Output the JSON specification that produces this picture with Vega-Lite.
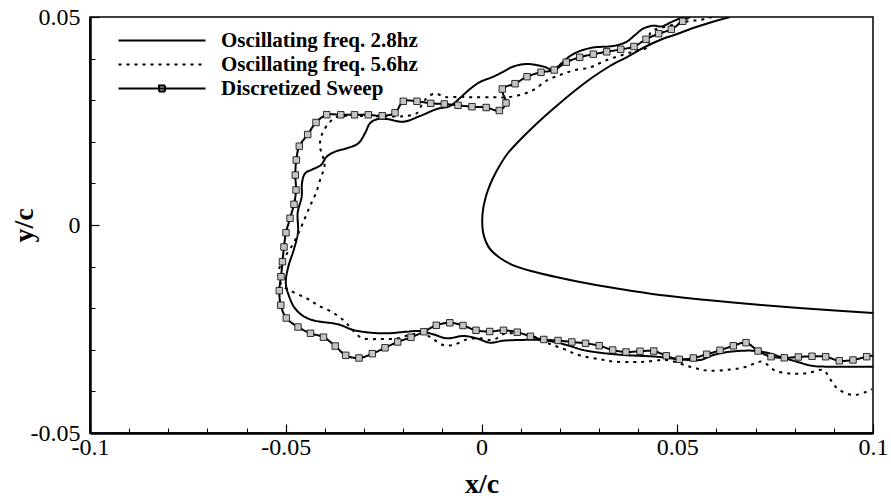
{
  "$schema": "https://vega.github.io/schema/vega-lite/v6.json",
  "width": 783,
  "height": 416,
  "autosize": "none",
  "padding": {"left": 90, "top": 17, "right": 18, "bottom": 66},
  "background": "white",
  "config": {
    "view": {"stroke": "black", "strokeWidth": 1.5},
    "axis": {"grid": false, "labelColor": "black", "tickColor": "black", "domainColor": "black", "titleColor": "black"}
  },
  "datasets": {
    "airfoil": [
      {"x": 0.06347, "y": 0.05}, {"x": 0.05888, "y": 0.0488}, {"x": 0.05402, "y": 0.04735}, {"x": 0.04994, "y": 0.04591},
      {"x": 0.04559, "y": 0.04447}, {"x": 0.04125, "y": 0.04255}, {"x": 0.03717, "y": 0.04038}, {"x": 0.03282, "y": 0.03822},
      {"x": 0.02848, "y": 0.03558}, {"x": 0.02439, "y": 0.03269}, {"x": 0.02005, "y": 0.02933}, {"x": 0.01622, "y": 0.0262},
      {"x": 0.01239, "y": 0.02284}, {"x": 0.00932, "y": 0.01995}, {"x": 0.00677, "y": 0.01731}, {"x": 0.00473, "y": 0.01442},
      {"x": 0.00294, "y": 0.0113}, {"x": 0.00166, "y": 0.00841}, {"x": 0.00089, "y": 0.00601}, {"x": 0.00038, "y": 0.00361},
      {"x": 0.00018, "y": 0.00096}, {"x": 0.00038, "y": -0.00168}, {"x": 0.00115, "y": -0.00409}, {"x": 0.00217, "y": -0.00577},
      {"x": 0.00473, "y": -0.00793}, {"x": 0.00899, "y": -0.01002}, {"x": 0.01571, "y": -0.01178}, {"x": 0.02516, "y": -0.0137},
      {"x": 0.03538, "y": -0.01538}, {"x": 0.04559, "y": -0.01683}, {"x": 0.0576, "y": -0.01803}, {"x": 0.06858, "y": -0.01899},
      {"x": 0.07957, "y": -0.01983}, {"x": 0.0903, "y": -0.02055}, {"x": 0.1, "y": -0.02115}
    ],
    "wake": [
      {"series": "Oscillating freq. 2.8hz", "x": 0.05224, "y": 0.05},
      {"series": "Oscillating freq. 2.8hz", "x": 0.0507, "y": 0.04964},
      {"series": "Oscillating freq. 2.8hz", "x": 0.04815, "y": 0.04863},
      {"series": "Oscillating freq. 2.8hz", "x": 0.04603, "y": 0.04772},
      {"series": "Oscillating freq. 2.8hz", "x": 0.04388, "y": 0.04791},
      {"series": "Oscillating freq. 2.8hz", "x": 0.04133, "y": 0.04723},
      {"series": "Oscillating freq. 2.8hz", "x": 0.03921, "y": 0.04567},
      {"series": "Oscillating freq. 2.8hz", "x": 0.03709, "y": 0.04406},
      {"series": "Oscillating freq. 2.8hz", "x": 0.03367, "y": 0.04303},
      {"series": "Oscillating freq. 2.8hz", "x": 0.02856, "y": 0.04267},
      {"series": "Oscillating freq. 2.8hz", "x": 0.02516, "y": 0.04183},
      {"series": "Oscillating freq. 2.8hz", "x": 0.02261, "y": 0.04062},
      {"series": "Oscillating freq. 2.8hz", "x": 0.02056, "y": 0.03894},
      {"series": "Oscillating freq. 2.8hz", "x": 0.01826, "y": 0.03738},
      {"series": "Oscillating freq. 2.8hz", "x": 0.01579, "y": 0.0381},
      {"series": "Oscillating freq. 2.8hz", "x": 0.01155, "y": 0.0387},
      {"series": "Oscillating freq. 2.8hz", "x": 0.00812, "y": 0.0381},
      {"series": "Oscillating freq. 2.8hz", "x": 0.00557, "y": 0.03685},
      {"series": "Oscillating freq. 2.8hz", "x": 0.00301, "y": 0.03565},
      {"series": "Oscillating freq. 2.8hz", "x": -0.00038, "y": 0.03437},
      {"series": "Oscillating freq. 2.8hz", "x": -0.00294, "y": 0.03269},
      {"series": "Oscillating freq. 2.8hz", "x": -0.00549, "y": 0.03053},
      {"series": "Oscillating freq. 2.8hz", "x": -0.00805, "y": 0.02861},
      {"series": "Oscillating freq. 2.8hz", "x": -0.01144, "y": 0.02788},
      {"series": "Oscillating freq. 2.8hz", "x": -0.01571, "y": 0.0262},
      {"series": "Oscillating freq. 2.8hz", "x": -0.01997, "y": 0.02483},
      {"series": "Oscillating freq. 2.8hz", "x": -0.02421, "y": 0.02548},
      {"series": "Oscillating freq. 2.8hz", "x": -0.02677, "y": 0.02541},
      {"series": "Oscillating freq. 2.8hz", "x": -0.02848, "y": 0.02445},
      {"series": "Oscillating freq. 2.8hz", "x": -0.02976, "y": 0.02204},
      {"series": "Oscillating freq. 2.8hz", "x": -0.03147, "y": 0.01964},
      {"series": "Oscillating freq. 2.8hz", "x": -0.03443, "y": 0.01844},
      {"series": "Oscillating freq. 2.8hz", "x": -0.03742, "y": 0.01762},
      {"series": "Oscillating freq. 2.8hz", "x": -0.03954, "y": 0.01642},
      {"series": "Oscillating freq. 2.8hz", "x": -0.041, "y": 0.01442},
      {"series": "Oscillating freq. 2.8hz", "x": -0.04296, "y": 0.01346},
      {"series": "Oscillating freq. 2.8hz", "x": -0.04508, "y": 0.01238},
      {"series": "Oscillating freq. 2.8hz", "x": -0.04585, "y": 0.0101},
      {"series": "Oscillating freq. 2.8hz", "x": -0.04593, "y": 0.0068},
      {"series": "Oscillating freq. 2.8hz", "x": -0.04695, "y": 0.003},
      {"series": "Oscillating freq. 2.8hz", "x": -0.04687, "y": -0.00168},
      {"series": "Oscillating freq. 2.8hz", "x": -0.04789, "y": -0.00577},
      {"series": "Oscillating freq. 2.8hz", "x": -0.04935, "y": -0.01002},
      {"series": "Oscillating freq. 2.8hz", "x": -0.04999, "y": -0.01394},
      {"series": "Oscillating freq. 2.8hz", "x": -0.04917, "y": -0.01707},
      {"series": "Oscillating freq. 2.8hz", "x": -0.04789, "y": -0.01971},
      {"series": "Oscillating freq. 2.8hz", "x": -0.04593, "y": -0.02163},
      {"series": "Oscillating freq. 2.8hz", "x": -0.04381, "y": -0.02267},
      {"series": "Oscillating freq. 2.8hz", "x": -0.04125, "y": -0.02324},
      {"series": "Oscillating freq. 2.8hz", "x": -0.03793, "y": -0.02363},
      {"series": "Oscillating freq. 2.8hz", "x": -0.03563, "y": -0.02416},
      {"series": "Oscillating freq. 2.8hz", "x": -0.03333, "y": -0.02507},
      {"series": "Oscillating freq. 2.8hz", "x": -0.02932, "y": -0.02579},
      {"series": "Oscillating freq. 2.8hz", "x": -0.02421, "y": -0.02603},
      {"series": "Oscillating freq. 2.8hz", "x": -0.01911, "y": -0.02565},
      {"series": "Oscillating freq. 2.8hz", "x": -0.01571, "y": -0.02548},
      {"series": "Oscillating freq. 2.8hz", "x": -0.01231, "y": -0.02627},
      {"series": "Oscillating freq. 2.8hz", "x": -0.00889, "y": -0.02724},
      {"series": "Oscillating freq. 2.8hz", "x": -0.00465, "y": -0.02668},
      {"series": "Oscillating freq. 2.8hz", "x": -0.00123, "y": -0.02724},
      {"series": "Oscillating freq. 2.8hz", "x": 0.00217, "y": -0.02829},
      {"series": "Oscillating freq. 2.8hz", "x": 0.00557, "y": -0.02781},
      {"series": "Oscillating freq. 2.8hz", "x": 0.00983, "y": -0.02764},
      {"series": "Oscillating freq. 2.8hz", "x": 0.01494, "y": -0.02764},
      {"series": "Oscillating freq. 2.8hz", "x": 0.01834, "y": -0.02805},
      {"series": "Oscillating freq. 2.8hz", "x": 0.02176, "y": -0.02885},
      {"series": "Oscillating freq. 2.8hz", "x": 0.026, "y": -0.03005},
      {"series": "Oscillating freq. 2.8hz", "x": 0.03027, "y": -0.0307},
      {"series": "Oscillating freq. 2.8hz", "x": 0.03622, "y": -0.03125},
      {"series": "Oscillating freq. 2.8hz", "x": 0.04475, "y": -0.03166},
      {"series": "Oscillating freq. 2.8hz", "x": 0.0507, "y": -0.03228},
      {"series": "Oscillating freq. 2.8hz", "x": 0.05581, "y": -0.03245},
      {"series": "Oscillating freq. 2.8hz", "x": 0.05921, "y": -0.03125},
      {"series": "Oscillating freq. 2.8hz", "x": 0.06347, "y": -0.03046},
      {"series": "Oscillating freq. 2.8hz", "x": 0.06943, "y": -0.03022},
      {"series": "Oscillating freq. 2.8hz", "x": 0.07285, "y": -0.0307},
      {"series": "Oscillating freq. 2.8hz", "x": 0.07625, "y": -0.03166},
      {"series": "Oscillating freq. 2.8hz", "x": 0.08051, "y": -0.03286},
      {"series": "Oscillating freq. 2.8hz", "x": 0.08475, "y": -0.03389},
      {"series": "Oscillating freq. 2.8hz", "x": 0.08902, "y": -0.03406},
      {"series": "Oscillating freq. 2.8hz", "x": 0.1, "y": -0.03406},

      {"series": "Oscillating freq. 5.6hz", "x": 0.05888, "y": 0.05},
      {"series": "Oscillating freq. 5.6hz", "x": 0.05581, "y": 0.04928},
      {"series": "Oscillating freq. 5.6hz", "x": 0.05326, "y": 0.04904},
      {"series": "Oscillating freq. 5.6hz", "x": 0.04994, "y": 0.04832},
      {"series": "Oscillating freq. 5.6hz", "x": 0.04662, "y": 0.0476},
      {"series": "Oscillating freq. 5.6hz", "x": 0.0433, "y": 0.04639},
      {"series": "Oscillating freq. 5.6hz", "x": 0.04227, "y": 0.04267},
      {"series": "Oscillating freq. 5.6hz", "x": 0.03964, "y": 0.04195},
      {"series": "Oscillating freq. 5.6hz", "x": 0.0364, "y": 0.04099},
      {"series": "Oscillating freq. 5.6hz", "x": 0.03308, "y": 0.04002},
      {"series": "Oscillating freq. 5.6hz", "x": 0.03027, "y": 0.03894},
      {"series": "Oscillating freq. 5.6hz", "x": 0.02771, "y": 0.03786},
      {"series": "Oscillating freq. 5.6hz", "x": 0.02345, "y": 0.03714},
      {"series": "Oscillating freq. 5.6hz", "x": 0.02005, "y": 0.03606},
      {"series": "Oscillating freq. 5.6hz", "x": 0.01665, "y": 0.03473},
      {"series": "Oscillating freq. 5.6hz", "x": 0.01323, "y": 0.03245},
      {"series": "Oscillating freq. 5.6hz", "x": 0.00983, "y": 0.03125},
      {"series": "Oscillating freq. 5.6hz", "x": 0.00644, "y": 0.0307},
      {"series": "Oscillating freq. 5.6hz", "x": 0.00301, "y": 0.0307},
      {"series": "Oscillating freq. 5.6hz", "x": -0.00209, "y": 0.0307},
      {"series": "Oscillating freq. 5.6hz", "x": -0.00549, "y": 0.03082},
      {"series": "Oscillating freq. 5.6hz", "x": -0.00932, "y": 0.03077},
      {"series": "Oscillating freq. 5.6hz", "x": -0.01188, "y": 0.03161},
      {"series": "Oscillating freq. 5.6hz", "x": -0.014, "y": 0.03053},
      {"series": "Oscillating freq. 5.6hz", "x": -0.01527, "y": 0.02885},
      {"series": "Oscillating freq. 5.6hz", "x": -0.01655, "y": 0.02685},
      {"series": "Oscillating freq. 5.6hz", "x": -0.01954, "y": 0.0262},
      {"series": "Oscillating freq. 5.6hz", "x": -0.02337, "y": 0.02608},
      {"series": "Oscillating freq. 5.6hz", "x": -0.02848, "y": 0.0262},
      {"series": "Oscillating freq. 5.6hz", "x": -0.03359, "y": 0.0262},
      {"series": "Oscillating freq. 5.6hz", "x": -0.03665, "y": 0.02608},
      {"series": "Oscillating freq. 5.6hz", "x": -0.0387, "y": 0.02483},
      {"series": "Oscillating freq. 5.6hz", "x": -0.04082, "y": 0.02163},
      {"series": "Oscillating freq. 5.6hz", "x": -0.04125, "y": 0.01882},
      {"series": "Oscillating freq. 5.6hz", "x": -0.04041, "y": 0.01611},
      {"series": "Oscillating freq. 5.6hz", "x": -0.0401, "y": 0.01394},
      {"series": "Oscillating freq. 5.6hz", "x": -0.041, "y": 0.01154},
      {"series": "Oscillating freq. 5.6hz", "x": -0.04227, "y": 0.00769},
      {"series": "Oscillating freq. 5.6hz", "x": -0.04368, "y": 0.00481},
      {"series": "Oscillating freq. 5.6hz", "x": -0.04508, "y": 0.00168},
      {"series": "Oscillating freq. 5.6hz", "x": -0.04662, "y": -0.00168},
      {"series": "Oscillating freq. 5.6hz", "x": -0.04828, "y": -0.00481},
      {"series": "Oscillating freq. 5.6hz", "x": -0.05019, "y": -0.00762},
      {"series": "Oscillating freq. 5.6hz", "x": -0.05147, "y": -0.00998},
      {"series": "Oscillating freq. 5.6hz", "x": -0.05185, "y": -0.01106},
      {"series": "Oscillating freq. 5.6hz", "x": -0.05109, "y": -0.01442},
      {"series": "Oscillating freq. 5.6hz", "x": -0.04891, "y": -0.01574},
      {"series": "Oscillating freq. 5.6hz", "x": -0.04598, "y": -0.01707},
      {"series": "Oscillating freq. 5.6hz", "x": -0.04381, "y": -0.01803},
      {"series": "Oscillating freq. 5.6hz", "x": -0.04176, "y": -0.01935},
      {"series": "Oscillating freq. 5.6hz", "x": -0.0387, "y": -0.02067},
      {"series": "Oscillating freq. 5.6hz", "x": -0.0353, "y": -0.02284},
      {"series": "Oscillating freq. 5.6hz", "x": -0.03295, "y": -0.02524},
      {"series": "Oscillating freq. 5.6hz", "x": -0.03052, "y": -0.02716},
      {"series": "Oscillating freq. 5.6hz", "x": -0.02593, "y": -0.0274},
      {"series": "Oscillating freq. 5.6hz", "x": -0.02166, "y": -0.02728},
      {"series": "Oscillating freq. 5.6hz", "x": -0.01826, "y": -0.02644},
      {"series": "Oscillating freq. 5.6hz", "x": -0.01487, "y": -0.02603},
      {"series": "Oscillating freq. 5.6hz", "x": -0.01231, "y": -0.02748},
      {"series": "Oscillating freq. 5.6hz", "x": -0.00976, "y": -0.02885},
      {"series": "Oscillating freq. 5.6hz", "x": -0.0072, "y": -0.02885},
      {"series": "Oscillating freq. 5.6hz", "x": -0.00378, "y": -0.02752},
      {"series": "Oscillating freq. 5.6hz", "x": -0.00038, "y": -0.02724},
      {"series": "Oscillating freq. 5.6hz", "x": 0.00301, "y": -0.02764},
      {"series": "Oscillating freq. 5.6hz", "x": 0.00557, "y": -0.0262},
      {"series": "Oscillating freq. 5.6hz", "x": 0.00812, "y": -0.02603},
      {"series": "Oscillating freq. 5.6hz", "x": 0.01323, "y": -0.0268},
      {"series": "Oscillating freq. 5.6hz", "x": 0.01665, "y": -0.02829},
      {"series": "Oscillating freq. 5.6hz", "x": 0.02089, "y": -0.02976},
      {"series": "Oscillating freq. 5.6hz", "x": 0.02516, "y": -0.03137},
      {"series": "Oscillating freq. 5.6hz", "x": 0.03027, "y": -0.03228},
      {"series": "Oscillating freq. 5.6hz", "x": 0.03367, "y": -0.03281},
      {"series": "Oscillating freq. 5.6hz", "x": 0.03877, "y": -0.03293},
      {"series": "Oscillating freq. 5.6hz", "x": 0.0422, "y": -0.03286},
      {"series": "Oscillating freq. 5.6hz", "x": 0.04731, "y": -0.03245},
      {"series": "Oscillating freq. 5.6hz", "x": 0.05326, "y": -0.03406},
      {"series": "Oscillating freq. 5.6hz", "x": 0.05785, "y": -0.03502},
      {"series": "Oscillating freq. 5.6hz", "x": 0.06347, "y": -0.03473},
      {"series": "Oscillating freq. 5.6hz", "x": 0.06774, "y": -0.03406},
      {"series": "Oscillating freq. 5.6hz", "x": 0.07063, "y": -0.03293},
      {"series": "Oscillating freq. 5.6hz", "x": 0.07203, "y": -0.03293},
      {"series": "Oscillating freq. 5.6hz", "x": 0.07497, "y": -0.03498},
      {"series": "Oscillating freq. 5.6hz", "x": 0.07931, "y": -0.03574},
      {"series": "Oscillating freq. 5.6hz", "x": 0.0834, "y": -0.03558},
      {"series": "Oscillating freq. 5.6hz", "x": 0.08731, "y": -0.03486},
      {"series": "Oscillating freq. 5.6hz", "x": 0.08902, "y": -0.03702},
      {"series": "Oscillating freq. 5.6hz", "x": 0.09106, "y": -0.03942},
      {"series": "Oscillating freq. 5.6hz", "x": 0.09497, "y": -0.04086},
      {"series": "Oscillating freq. 5.6hz", "x": 0.09839, "y": -0.04007},
      {"series": "Oscillating freq. 5.6hz", "x": 0.09975, "y": -0.03942},

      {"series": "Discretized Sweep", "x": 0.05326, "y": 0.05},
      {"series": "Discretized Sweep", "x": 0.05139, "y": 0.04897},
      {"series": "Discretized Sweep", "x": 0.04848, "y": 0.04704},
      {"series": "Discretized Sweep", "x": 0.04526, "y": 0.04599},
      {"series": "Discretized Sweep", "x": 0.04202, "y": 0.04464},
      {"series": "Discretized Sweep", "x": 0.03895, "y": 0.04291},
      {"series": "Discretized Sweep", "x": 0.03556, "y": 0.04223},
      {"series": "Discretized Sweep", "x": 0.03198, "y": 0.04163},
      {"series": "Discretized Sweep", "x": 0.02856, "y": 0.04106},
      {"series": "Discretized Sweep", "x": 0.02508, "y": 0.04031},
      {"series": "Discretized Sweep", "x": 0.02166, "y": 0.03913},
      {"series": "Discretized Sweep", "x": 0.01857, "y": 0.03726},
      {"series": "Discretized Sweep", "x": 0.0152, "y": 0.03671},
      {"series": "Discretized Sweep", "x": 0.01162, "y": 0.03565},
      {"series": "Discretized Sweep", "x": 0.00856, "y": 0.03397},
      {"series": "Discretized Sweep", "x": 0.00531, "y": 0.03269},
      {"series": "Discretized Sweep", "x": 0.00626, "y": 0.02933},
      {"series": "Discretized Sweep", "x": 0.00455, "y": 0.02752},
      {"series": "Discretized Sweep", "x": 0.0012, "y": 0.02824},
      {"series": "Discretized Sweep", "x": -0.00243, "y": 0.02844},
      {"series": "Discretized Sweep", "x": -0.006, "y": 0.02877},
      {"series": "Discretized Sweep", "x": -0.0095, "y": 0.02909},
      {"series": "Discretized Sweep", "x": -0.01298, "y": 0.02925},
      {"series": "Discretized Sweep", "x": -0.01648, "y": 0.02974},
      {"series": "Discretized Sweep", "x": -0.01997, "y": 0.02974},
      {"series": "Discretized Sweep", "x": -0.02209, "y": 0.02697},
      {"series": "Discretized Sweep", "x": -0.02536, "y": 0.02625},
      {"series": "Discretized Sweep", "x": -0.02891, "y": 0.02649},
      {"series": "Discretized Sweep", "x": -0.03244, "y": 0.02649},
      {"series": "Discretized Sweep", "x": -0.03596, "y": 0.02649},
      {"series": "Discretized Sweep", "x": -0.03954, "y": 0.02651},
      {"series": "Discretized Sweep", "x": -0.04227, "y": 0.02464},
      {"series": "Discretized Sweep", "x": -0.04439, "y": 0.02175},
      {"series": "Discretized Sweep", "x": -0.04654, "y": 0.01894},
      {"series": "Discretized Sweep", "x": -0.04731, "y": 0.01562},
      {"series": "Discretized Sweep", "x": -0.04756, "y": 0.01202},
      {"series": "Discretized Sweep", "x": -0.04738, "y": 0.00841},
      {"series": "Discretized Sweep", "x": -0.04789, "y": 0.00498},
      {"series": "Discretized Sweep", "x": -0.04891, "y": 0.00161},
      {"series": "Discretized Sweep", "x": -0.04994, "y": -0.00185},
      {"series": "Discretized Sweep", "x": -0.05045, "y": -0.00529},
      {"series": "Discretized Sweep", "x": -0.05083, "y": -0.00882},
      {"series": "Discretized Sweep", "x": -0.05121, "y": -0.01243},
      {"series": "Discretized Sweep", "x": -0.05165, "y": -0.01579},
      {"series": "Discretized Sweep", "x": -0.05126, "y": -0.01928},
      {"series": "Discretized Sweep", "x": -0.04986, "y": -0.02236},
      {"series": "Discretized Sweep", "x": -0.04687, "y": -0.02452},
      {"series": "Discretized Sweep", "x": -0.04368, "y": -0.02603},
      {"series": "Discretized Sweep", "x": -0.04036, "y": -0.02697},
      {"series": "Discretized Sweep", "x": -0.03737, "y": -0.02909},
      {"series": "Discretized Sweep", "x": -0.03469, "y": -0.03132},
      {"series": "Discretized Sweep", "x": -0.03129, "y": -0.03197},
      {"series": "Discretized Sweep", "x": -0.02789, "y": -0.03094},
      {"series": "Discretized Sweep", "x": -0.02465, "y": -0.02952},
      {"series": "Discretized Sweep", "x": -0.02141, "y": -0.02812},
      {"series": "Discretized Sweep", "x": -0.01801, "y": -0.02699},
      {"series": "Discretized Sweep", "x": -0.01474, "y": -0.02565},
      {"series": "Discretized Sweep", "x": -0.01155, "y": -0.02411},
      {"series": "Discretized Sweep", "x": -0.0081, "y": -0.02351},
      {"series": "Discretized Sweep", "x": -0.00473, "y": -0.02416},
      {"series": "Discretized Sweep", "x": -0.0014, "y": -0.02531},
      {"series": "Discretized Sweep", "x": 0.00209, "y": -0.0256},
      {"series": "Discretized Sweep", "x": 0.00562, "y": -0.02531},
      {"series": "Discretized Sweep", "x": 0.00912, "y": -0.02577},
      {"series": "Discretized Sweep", "x": 0.01249, "y": -0.02675},
      {"series": "Discretized Sweep", "x": 0.01591, "y": -0.02752},
      {"series": "Discretized Sweep", "x": 0.01954, "y": -0.02776},
      {"series": "Discretized Sweep", "x": 0.02307, "y": -0.02812},
      {"series": "Discretized Sweep", "x": 0.02656, "y": -0.02844},
      {"series": "Discretized Sweep", "x": 0.03006, "y": -0.02901},
      {"series": "Discretized Sweep", "x": 0.03351, "y": -0.03005},
      {"series": "Discretized Sweep", "x": 0.03691, "y": -0.03053},
      {"series": "Discretized Sweep", "x": 0.04049, "y": -0.03034},
      {"series": "Discretized Sweep", "x": 0.04401, "y": -0.03029},
      {"series": "Discretized Sweep", "x": 0.0472, "y": -0.03144},
      {"series": "Discretized Sweep", "x": 0.05052, "y": -0.03228},
      {"series": "Discretized Sweep", "x": 0.0541, "y": -0.03197},
      {"series": "Discretized Sweep", "x": 0.05752, "y": -0.03108},
      {"series": "Discretized Sweep", "x": 0.06092, "y": -0.03012},
      {"series": "Discretized Sweep", "x": 0.06432, "y": -0.02904},
      {"series": "Discretized Sweep", "x": 0.06756, "y": -0.02829},
      {"series": "Discretized Sweep", "x": 0.07063, "y": -0.03029},
      {"series": "Discretized Sweep", "x": 0.07395, "y": -0.03166},
      {"series": "Discretized Sweep", "x": 0.07734, "y": -0.03192},
      {"series": "Discretized Sweep", "x": 0.08092, "y": -0.03173},
      {"series": "Discretized Sweep", "x": 0.08442, "y": -0.03156},
      {"series": "Discretized Sweep", "x": 0.08792, "y": -0.03166},
      {"series": "Discretized Sweep", "x": 0.09139, "y": -0.03264},
      {"series": "Discretized Sweep", "x": 0.09489, "y": -0.03245},
      {"series": "Discretized Sweep", "x": 0.09839, "y": -0.03166},
      {"series": "Discretized Sweep", "x": 0.1, "y": -0.03137}
    ]
  },
  "layer": [
    {
      "data": {"name": "airfoil"},
      "mark": {"type": "line", "color": "black", "strokeWidth": 2, "interpolate": "catmull-rom", "clip": true},
      "encoding": {
        "x": {
          "field": "x", "type": "quantitative",
          "scale": {"domain": [-0.1, 0.1], "nice": false, "zero": false},
          "axis": {
            "orient": "bottom", "values": [-0.1, -0.05, 0, 0.05, 0.1], "format": "~g",
            "labelExpr": "replace(datum.label, '\u2212', '-')",
            "ticks": false, "tickSize": 0, "domainWidth": 2.5,
            "labelFont": "Liberation Serif", "labelFontSize": 24, "labelPadding": 2,
            "labelFlush": false, "labelOverlap": false,
            "title": "x/c", "titleFont": "Liberation Serif", "titleFontSize": 28, "titleFontWeight": "bold",
            "titleY": 59, "titleBaseline": "alphabetic"
          }
        },
        "y": {
          "field": "y", "type": "quantitative",
          "scale": {"domain": [-0.05, 0.05], "nice": false, "zero": false},
          "axis": {
            "orient": "left", "values": [-0.05, 0, 0.05], "format": "~g",
            "labelExpr": "replace(datum.label, '\u2212', '-')",
            "ticks": false, "tickSize": 0, "domainWidth": 2.5,
            "labelFont": "Liberation Serif", "labelFontSize": 24, "labelPadding": 10,
            "labelFlush": false, "labelOverlap": false,
            "title": "y/c", "titleFont": "Liberation Serif", "titleFontSize": 28, "titleFontWeight": "bold",
            "titleX": -66, "titleY": 208, "titleAngle": -90, "titleAlign": "center", "titleBaseline": "middle"
          }
        },
        "order": {"value": null}
      }
    },
    {
      "data": {"name": "wake"},
      "mark": {"type": "line", "color": "black", "interpolate": "catmull-rom", "clip": true},
      "encoding": {
        "x": {
          "field": "x", "type": "quantitative",
          "scale": {"domain": [-0.1, 0.1], "nice": false, "zero": false},
          "axis": {"orient": "bottom", "values": [-0.1, -0.05, 0, 0.05, 0.1], "labels": false, "domain": false, "tickSize": -9, "tickWidth": 1.2, "title": null}
        },
        "y": {
          "field": "y", "type": "quantitative",
          "scale": {"domain": [-0.05, 0.05], "nice": false, "zero": false},
          "axis": {"orient": "left", "values": [-0.05, 0, 0.05], "labels": false, "domain": false, "tickSize": -9, "tickWidth": 1.2, "title": null}
        },
        "strokeDash": {
          "field": "series", "type": "nominal",
          "scale": {
            "domain": ["Oscillating freq. 2.8hz", "Oscillating freq. 5.6hz", "Discretized Sweep"],
            "range": [[1, 0], [3, 5], [1, 0]]
          },
          "legend": {
            "title": null, "orient": "none", "legendX": 61.5, "legendY": 13,
            "symbolType": "M-43.5,0H43.5", "symbolSize": 4,
            "symbolStrokeColor": "black", "symbolStrokeWidth": 2,
            "labelFont": "Liberation Serif", "labelFontSize": 21, "labelFontWeight": "bold", "labelColor": "black",
            "labelOffset": 48.5, "rowPadding": 2, "labelLimit": 400,
            "encode": {
              "symbols": {
                "update": {
                  "shape": [
                    {"test": "datum.value === 'Discretized Sweep'", "value": "M-43.5,0H43.5M-3,-3H3V3H-3Z"},
                    {"value": "M-43.5,0H43.5"}
                  ],
                  "stroke": {"value": "black"},
                  "fill": [
                    {"test": "datum.value === 'Discretized Sweep'", "value": "#c4c4c4"},
                    {"value": "transparent"}
                  ],
                  "strokeWidth": [
                    {"test": "datum.value === 'Discretized Sweep'", "value": 1},
                    {"value": 2}
                  ],
                  "opacity": {"value": 1}
                }
              }
            }
          }
        },
        "strokeWidth": {
          "field": "series", "type": "nominal",
          "scale": {
            "domain": ["Oscillating freq. 2.8hz", "Oscillating freq. 5.6hz", "Discretized Sweep"],
            "range": [2, 2, 1]
          },
          "legend": null
        },
        "order": {"value": null}
      }
    },
    {
      "data": {"name": "wake"},
      "transform": [
        {"filter": "datum.series === 'Discretized Sweep' && datum.x < 0.0999 && datum.y < 0.0499"}
      ],
      "mark": {"type": "point", "shape": "square", "size": 42, "filled": true, "fill": "#c4c4c4", "stroke": "black", "strokeWidth": 0.8, "opacity": 1, "clip": true},
      "encoding": {
        "x": {
          "field": "x", "type": "quantitative",
          "scale": {"domain": [-0.1, 0.1], "nice": false, "zero": false},
          "axis": {"orient": "bottom", "values": [-0.09, -0.08, -0.07, -0.06, -0.04, -0.03, -0.02, -0.01, 0.01, 0.02, 0.03, 0.04, 0.06, 0.07, 0.08, 0.09], "labels": false, "domain": false, "tickSize": -5, "tickWidth": 1, "title": null}
        },
        "y": {
          "field": "y", "type": "quantitative",
          "scale": {"domain": [-0.05, 0.05], "nice": false, "zero": false},
          "axis": {"orient": "left", "values": [-0.04, -0.03, -0.02, -0.01, 0.01, 0.02, 0.03, 0.04], "labels": false, "domain": false, "tickSize": -5, "tickWidth": 1, "title": null}
        }
      }
    }
  ],
  "resolve": {"axis": {"x": "independent", "y": "independent"}}
}
